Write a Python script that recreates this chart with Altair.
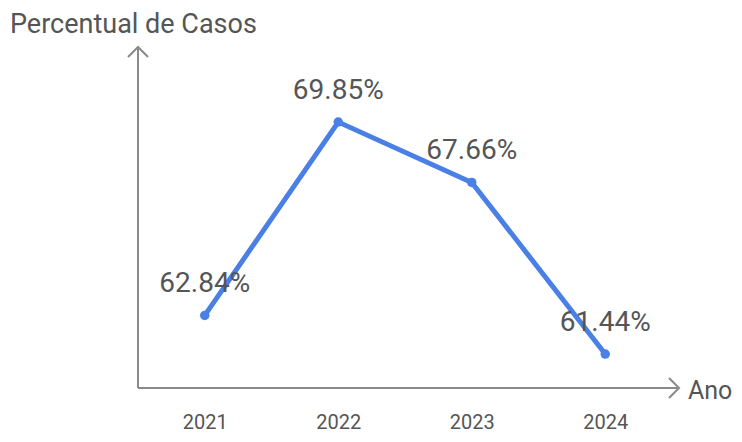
import altair as alt
import pandas as pd

anos = ["2021", "2022", "2023", "2024"]
percentuais = [62.84, 69.85, 67.66, 61.44]
rotulos = ["62.84%", "69.85%", "67.66%", "61.44%"]

df = pd.DataFrame({"Ano": anos, "Percentual": percentuais, "Rotulo": rotulos})

W, H = 534, 338
FONT = "Roboto"
GRAY = "#555555"
AXIS = "#8a8a8a"
BLUE = "#4a80e6"

xs = alt.X("Ano:O", scale=alt.Scale(type="point", padding=0.5),
           axis=alt.Axis(domain=False, ticks=False, grid=False, title=None,
                         labelAngle=0, labelFont=FONT, labelFontSize=20,
                         labelColor=GRAY, labelBaseline="alphabetic",
                         labelPadding=40))
ys = alt.Y("Percentual:Q", scale=alt.Scale(domain=[60.21, 72.46], nice=False, zero=False),
           axis=None)

base = alt.Chart(df)

line = base.mark_line(color=BLUE, strokeWidth=5).encode(x=xs, y=ys)
pts = base.mark_point(color=BLUE, filled=True, size=90, opacity=1).encode(x=xs, y=ys)
labels = base.mark_text(font=FONT, fontSize=28, color=GRAY, baseline="alphabetic",
                        align="center", dy=-23).encode(x=xs, y=ys, text="Rotulo:N")

one = alt.Data(values=[{"k": 1}])
yline = alt.Chart(one).mark_rule(color=AXIS, strokeWidth=2).encode(
    x=alt.value(0), y=alt.value(-3), y2=alt.value(H))
xline = alt.Chart(one).mark_rule(color=AXIS, strokeWidth=2).encode(
    x=alt.value(0), x2=alt.value(541), y=alt.value(H))
yarrow = alt.Chart(one).mark_point(shape="M-1,1L0,0L1,1", filled=False, stroke=AXIS,
                                   strokeWidth=2, size=400, opacity=1).encode(
    x=alt.value(0), y=alt.value(-3))
xarrow = alt.Chart(one).mark_point(shape="M-1,-1L0,0L-1,1", filled=False, stroke=AXIS,
                                   strokeWidth=2, size=400, opacity=1).encode(
    x=alt.value(541), y=alt.value(H))
ytitle = alt.Chart(one).mark_text(text="Percentual de Casos", font=FONT, fontSize=27,
                                  color=GRAY, align="left", baseline="alphabetic").encode(
    x=alt.value(-128), y=alt.value(-17))
xtitle = alt.Chart(one).mark_text(text="Ano", font=FONT, fontSize=25,
                                  color=GRAY, align="left", baseline="alphabetic").encode(
    x=alt.value(550), y=alt.value(349))

chart = alt.layer(yline, xline, yarrow, xarrow, line, pts, labels, ytitle, xtitle).properties(
    width=W, height=H,
    background="white",
    autosize=alt.AutoSizeParams(type="none"),
    padding={"left": 130, "top": 42, "right": 62, "bottom": 46},
).configure_view(strokeWidth=0, stroke=None)

chart.save("out.html", embed_options={"renderer": "svg", "actions": False})
